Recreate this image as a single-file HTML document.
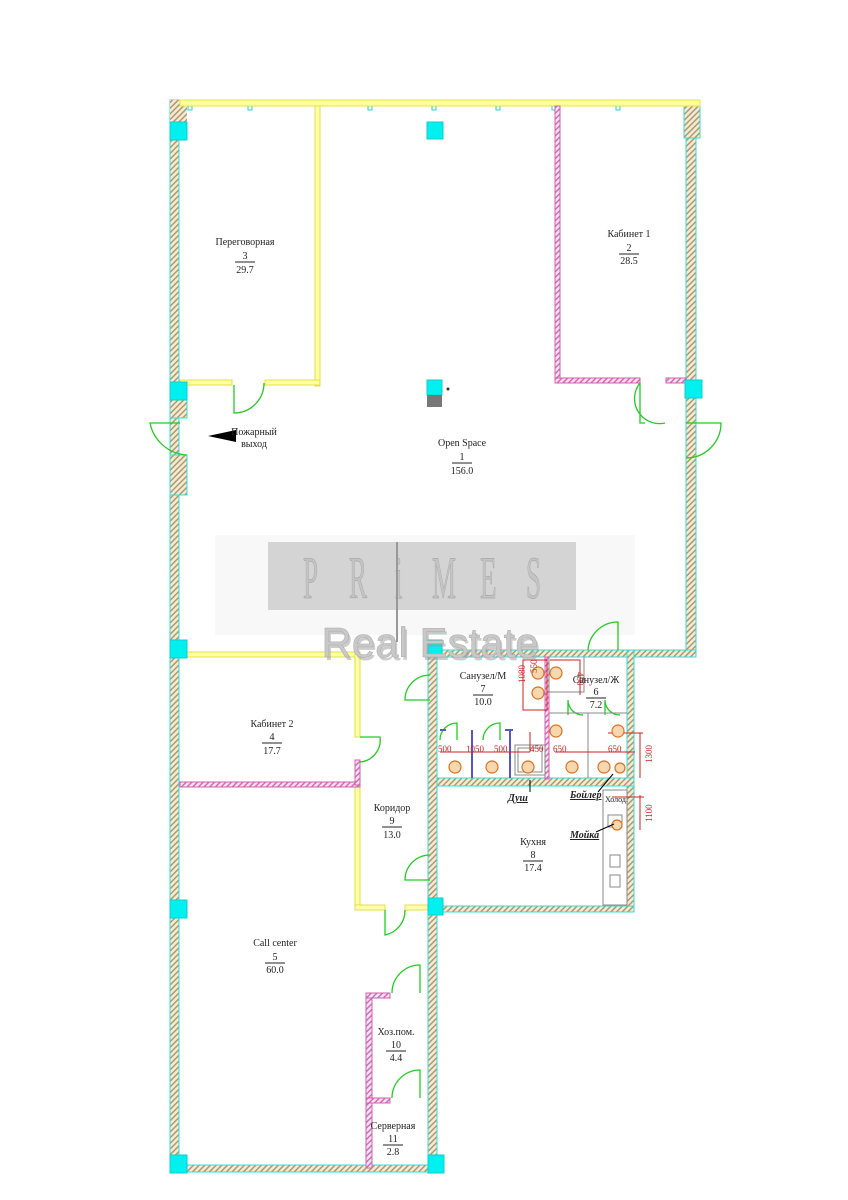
<!DOCTYPE html>
<html><head><meta charset="utf-8"><style>
html,body{margin:0;padding:0;background:#fff;}
svg{display:block;}
text{font-family:"Liberation Serif",serif;font-size:10px;fill:#222;}
</style></head><body>
<svg width="848" height="1200" viewBox="0 0 848 1200" xmlns="http://www.w3.org/2000/svg">
<defs>
<pattern id="h" width="4" height="4" patternUnits="userSpaceOnUse" patternTransform="rotate(45)">
<rect width="4" height="4" fill="#f3ead8"/><rect width="1.5" height="4" fill="#b09a6a"/></pattern>
<pattern id="hp" width="4" height="4" patternUnits="userSpaceOnUse" patternTransform="rotate(45)">
<rect width="4" height="4" fill="#fbe3f3"/><rect width="1.5" height="4" fill="#d070b0"/></pattern>
</defs>
<rect width="848" height="1200" fill="#fff"/>
<rect x="215" y="535" width="420" height="100" fill="#f8f8f8"/>
<g fill="url(#h)" stroke="#3dd" stroke-width="1">
<rect x="170" y="100" width="9" height="1072"/>
<rect x="170" y="400" width="17" height="18"/>
<rect x="170" y="455" width="17" height="40"/>
<rect x="686" y="100" width="10" height="556"/>
<rect x="684" y="100" width="16" height="38"/>
<rect x="428" y="650" width="268" height="7"/>
<rect x="627" y="650" width="7" height="262"/>
<rect x="436" y="906" width="198" height="6"/>
<rect x="436" y="778" width="198" height="8"/>
<rect x="428" y="650" width="9" height="522"/>
<rect x="170" y="1165" width="268" height="7"/>
</g>
<rect x="170" y="100" width="17" height="22" fill="url(#h)"/>
<rect x="180" y="100" width="520" height="6" fill="#ffff99" stroke="#e6e64a"/>
<g fill="none" stroke="#3cc" stroke-width="1">
<path d="M188 106v4h4v-4M248 106v4h4v-4M316 106v4h4v-4M368 106v4h4v-4M432 106v4h4v-4M496 106v4h4v-4M552 106v4h4v-4M616 106v4h4v-4"/>
</g>
<g fill="#ffffa8" stroke="#e0e040">
<rect x="315" y="106" width="5" height="280"/>
<rect x="180" y="380" width="52" height="5"/>
<rect x="265" y="380" width="55" height="5"/>
<rect x="180" y="652" width="180" height="5"/>
<rect x="355" y="652" width="5" height="85"/>
<rect x="355" y="770" width="5" height="140"/>
<rect x="355" y="905" width="30" height="5"/>
<rect x="405" y="905" width="25" height="5"/>
</g>
<g fill="url(#hp)" stroke="#d060b0" stroke-width="1">
<rect x="555" y="106" width="5" height="277"/>
<rect x="555" y="378" width="85" height="5"/>
<rect x="666" y="378" width="20" height="5"/>
<rect x="180" y="782" width="180" height="5"/>
<rect x="355" y="760" width="5" height="25"/>
<rect x="366" y="993" width="6" height="175"/>
<rect x="366" y="993" width="24" height="5"/>
<rect x="366" y="1098" width="24" height="5"/>
<rect x="545" y="657" width="4" height="122"/>
</g>
<g fill="#00f0f0" stroke="#1cc">
<rect x="170" y="122" width="17" height="18"/>
<rect x="427" y="122" width="16" height="17"/>
<rect x="170" y="382" width="17" height="18"/>
<rect x="427" y="380" width="15" height="15"/>
<rect x="685" y="380" width="17" height="18"/>
<rect x="170" y="640" width="17" height="18"/>
<rect x="428" y="640" width="14" height="15"/>
<rect x="170" y="900" width="17" height="18"/>
<rect x="428" y="898" width="15" height="17"/>
<rect x="170" y="1155" width="17" height="18"/>
<rect x="428" y="1155" width="16" height="18"/>
</g>
<rect x="427" y="395" width="15" height="12" fill="#777"/>
<circle cx="448" cy="389" r="1.5" fill="#333"/>
<g fill="none" stroke="#2c2" stroke-width="1.3">
<path d="M234 385v28a30 30 0 0 0 30 -30"/>
<path d="M180 423h-30a40 40 0 0 0 37 32"/>
<path d="M640 383v40h5M640 383a25 25 0 0 0 25 40"/>
<path d="M686 423h35a35 35 0 0 1 -35 35"/>
<path d="M588 650a30 30 0 0 1 30 -28v28"/>
<path d="M430 700h-25a25 25 0 0 1 25 -25"/>
<path d="M360 737h20a22 22 0 0 1 -20 25"/>
<path d="M430 880h-25a25 25 0 0 1 25 -25"/>
<path d="M385 910v25a25 25 0 0 0 20 -25"/>
<path d="M392 993a28 28 0 0 1 28 -28v28"/>
<path d="M392 1098a28 28 0 0 1 28 -28v28"/>
<path d="M440 740a17 17 0 0 1 17 -17v17M483 740a17 17 0 0 1 17 -17v17"/>
<path d="M568 715v-15a15 15 0 0 0 15 15M605 715v-15a15 15 0 0 0 15 15"/>
</g>
<g fill="none" stroke="#55c" stroke-width="2">
<path d="M472 730v48M510 730v48M440 730h6M505 730h8"/>
</g>
<g fill="none" stroke="#888" stroke-width="1">
<path d="M515 745h30v30h-30zM518 748h24v24h-24z"/>
<path d="M549 713h78M588 713v65M549 657v35h35v-35"/>
<path d="M603 790h24v115h-24zM608 815h14v12h-14zM610 855h10v12h-10zM610 875h10v12h-10z"/>
</g>
<g stroke="#d02020" stroke-width="1" fill="none">
<path d="M440 752h90M530 752v-20M555 752h50M605 752h30M640 733v45M608 733h35M612 797h32M640 795v35"/>
<path d="M523 660h24v50h-24zM550 660h30v35"/>
</g>
<g fill="#f5d8b0" stroke="#e07020" stroke-width="1.2">
<circle cx="538" cy="673" r="6"/><circle cx="556" cy="673" r="6"/><circle cx="538" cy="693" r="6"/>
<circle cx="556" cy="731" r="6"/><circle cx="618" cy="731" r="6"/>
<circle cx="455" cy="767" r="6"/><circle cx="492" cy="767" r="6"/><circle cx="528" cy="767" r="6"/>
<circle cx="572" cy="767" r="6"/><circle cx="604" cy="767" r="6"/><circle cx="620" cy="768" r="5"/>
<circle cx="617" cy="825" r="5"/>
</g>
<g>
<text x="438" y="752" style="font-size:9px;fill:#c22">500</text>
<text x="466" y="752" style="font-size:9px;fill:#c22">1050</text>
<text x="494" y="752" style="font-size:9px;fill:#c22">500</text>
<text x="530" y="752" style="font-size:9px;fill:#c22">450</text>
<text x="553" y="752" style="font-size:9px;fill:#c22">650</text>
<text x="608" y="752" style="font-size:9px;fill:#c22">650</text>
<text transform="translate(652,763) rotate(-90)" style="font-size:9px;fill:#c22">1300</text>
<text transform="translate(652,822) rotate(-90)" style="font-size:9px;fill:#c22">1100</text>
<text transform="translate(525,683) rotate(-90)" style="font-size:9px;fill:#c22">1080</text>
<text transform="translate(537,673) rotate(-90)" style="font-size:9px;fill:#c22">550</text>
<text transform="translate(577,672) rotate(90)" style="font-size:9px;fill:#c22">450</text>
</g>
<text x="508" y="801" style="font-size:10px;font-style:italic;font-weight:bold;text-decoration:underline">Душ</text>
<text x="570" y="798" style="font-size:10px;font-style:italic;font-weight:bold;text-decoration:underline">Бойлер</text>
<text x="570" y="838" style="font-size:10px;font-style:italic;font-weight:bold;text-decoration:underline">Мойка</text>
<text x="605" y="802" style="font-size:8px">Холод.</text>
<path d="M530 780v12M598 792l15 -18M596 832l18 -8" stroke="#000" fill="none"/>
<!-- watermark -->
<rect x="268" y="542" width="308" height="68" fill="#d4d4d4"/>
<g style="font-family:'Liberation Sans',sans-serif;font-size:60px;fill:#c4c4c4;stroke:#a8a8a8;stroke-width:0.8">
<text transform="translate(303,598) scale(0.45,1)" style="font-size:60px;fill:#c4c4c4">P</text>
<text transform="translate(349,598) scale(0.45,1)" style="font-size:60px;fill:#c4c4c4">R</text>
<text transform="translate(395,598) scale(0.45,1)" style="font-size:60px;fill:#c4c4c4">i</text>
<text transform="translate(432,598) scale(0.45,1)" style="font-size:60px;fill:#c4c4c4">M</text>
<text transform="translate(480,598) scale(0.45,1)" style="font-size:60px;fill:#c4c4c4">E</text>
<text transform="translate(526,598) scale(0.45,1)" style="font-size:60px;fill:#c4c4c4">S</text>
</g>
<rect x="396" y="542" width="2" height="100" fill="#999"/>
<text x="432" y="660" text-anchor="middle" style="font-family:'Liberation Sans',sans-serif;font-size:42px;fill:#9a9a9a;opacity:0.5">Real Estate</text>
<text x="430" y="657" text-anchor="middle" style="font-family:'Liberation Sans',sans-serif;font-size:42px;fill:#c8c8c8;stroke:#aaa;stroke-width:0.5">Real Estate</text>
<path d="M208 436l28 -6v12z" fill="#000"/>
<g text-anchor="middle">
<text x="245" y="245">Переговорная</text><text x="245" y="259">3</text><text x="245" y="273">29.7</text>
<path d="M235 262h20" stroke="#222"/>
<text x="629" y="237">Кабинет 1</text><text x="629" y="251">2</text><text x="629" y="264">28.5</text>
<path d="M619 254h20" stroke="#222"/>
<text x="254" y="435" style="font-size:10px">Пожарный</text><text x="254" y="447">выход</text>
<text x="462" y="446">Open Space</text><text x="462" y="460">1</text><text x="462" y="474">156.0</text>
<path d="M452 463h20" stroke="#222"/>
<text x="272" y="727">Кабинет 2</text><text x="272" y="740">4</text><text x="272" y="754">17.7</text>
<path d="M262 743h20" stroke="#222"/>
<text x="483" y="679">Санузел/М</text><text x="483" y="692">7</text><text x="483" y="705">10.0</text>
<path d="M473 695h20" stroke="#222"/>
<text x="596" y="683">Санузел/Ж</text><text x="596" y="695">6</text><text x="596" y="708">7.2</text>
<path d="M586 698h20" stroke="#222"/>
<text x="392" y="811">Коридор</text><text x="392" y="824">9</text><text x="392" y="838">13.0</text>
<path d="M382 827h20" stroke="#222"/>
<text x="533" y="845">Кухня</text><text x="533" y="858">8</text><text x="533" y="871">17.4</text>
<path d="M523 861h20" stroke="#222"/>
<text x="275" y="946">Call center</text><text x="275" y="960">5</text><text x="275" y="973">60.0</text>
<path d="M265 963h20" stroke="#222"/>
<text x="396" y="1035">Хоз.пом.</text><text x="396" y="1048">10</text><text x="396" y="1061">4.4</text>
<path d="M386 1051h20" stroke="#222"/>
<text x="393" y="1129">Серверная</text><text x="393" y="1142">11</text><text x="393" y="1155">2.8</text>
<path d="M383 1145h20" stroke="#222"/>
</g>
</svg>
</body></html>
